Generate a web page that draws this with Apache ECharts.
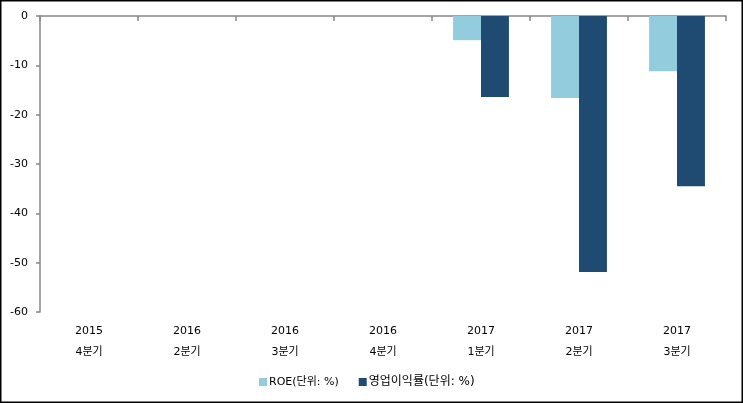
<!DOCTYPE html>
<html><head><meta charset="utf-8">
<script src="https://cdn.jsdelivr.net/npm/echarts@6/dist/echarts.min.js"></script>
<style>html,body{margin:0;padding:0;background:#fff}#c{width:743px;height:403px}</style>
</head><body><div id="c"></div>
<script>
const categories = ['2015\n4분기','2016\n2분기','2016\n3분기','2016\n4분기','2017\n1분기','2017\n2분기','2017\n3분기'];
const roe = [null,null,null,null,-4.9,-16.6,-11.2];
const opMargin = [null,null,null,null,-16.4,-51.9,-34.5];
const seriesNames = ['ROE(단위: %)','영업이익률(단위: %)'];
const yTicks = {min:-60,max:0,interval:10};

const FONT = "'DejaVu Sans','Noto Sans CJK KR',sans-serif";
const chart = echarts.init(document.getElementById('c'));
chart.setOption({
  animation:false,
  backgroundColor:'#fff',
  textStyle:{fontFamily:FONT},
  graphic:[{type:'rect',shape:{x:0.75,y:0.75,width:741.5,height:401.5},style:{fill:'none',stroke:'#000',lineWidth:1.5},silent:true}],
  grid:{left:40,right:17,top:16,bottom:91,containLabel:false},
  legend:{top:376,left:259,padding:0,itemWidth:8,itemHeight:8,itemGap:20,icon:'rect',
    formatter:function(n){return n===seriesNames[1]?'{k|'+n+'}':'{r|'+n+'}';},
    textStyle:{fontFamily:FONT,fontSize:11,color:'#000',padding:[0,0,0,-3],
      rich:{r:{fontFamily:FONT,fontSize:11,color:'#000'},k:{fontFamily:FONT,fontSize:12,color:'#000'}}},
    data:seriesNames},
  xAxis:[
    {type:'category',data:categories,position:'top',
     axisLine:{show:true,lineStyle:{color:'#868686',width:1.5}},
     axisTick:{show:true,inside:true,length:5,lineStyle:{color:'#868686',width:1.5}},
     axisLabel:{show:false},splitLine:{show:false}},
    {type:'category',data:categories,position:'bottom',
     axisLine:{show:false},axisTick:{show:false},
     axisLabel:{show:true,margin:9,color:'#000',fontSize:11,lineHeight:21,fontFamily:FONT}}
  ],
  yAxis:{type:'value',min:yTicks.min,max:yTicks.max,interval:yTicks.interval,
    axisLine:{show:true,lineStyle:{color:'#868686',width:1.5}},
    axisTick:{show:true,length:4,lineStyle:{color:'#868686',width:1.5}},
    axisLabel:{color:'#000',fontSize:11,margin:12,fontFamily:FONT},
    splitLine:{show:false}},
  series:[
    {name:seriesNames[0],type:'bar',xAxisIndex:0,data:roe,barGap:'0%',barCategoryGap:'43%',itemStyle:{color:'#93CDDD'}},
    {name:seriesNames[1],type:'bar',xAxisIndex:0,data:opMargin,barGap:'0%',barCategoryGap:'43%',itemStyle:{color:'#1F4A72'}}
  ]
});
</script></body></html>
